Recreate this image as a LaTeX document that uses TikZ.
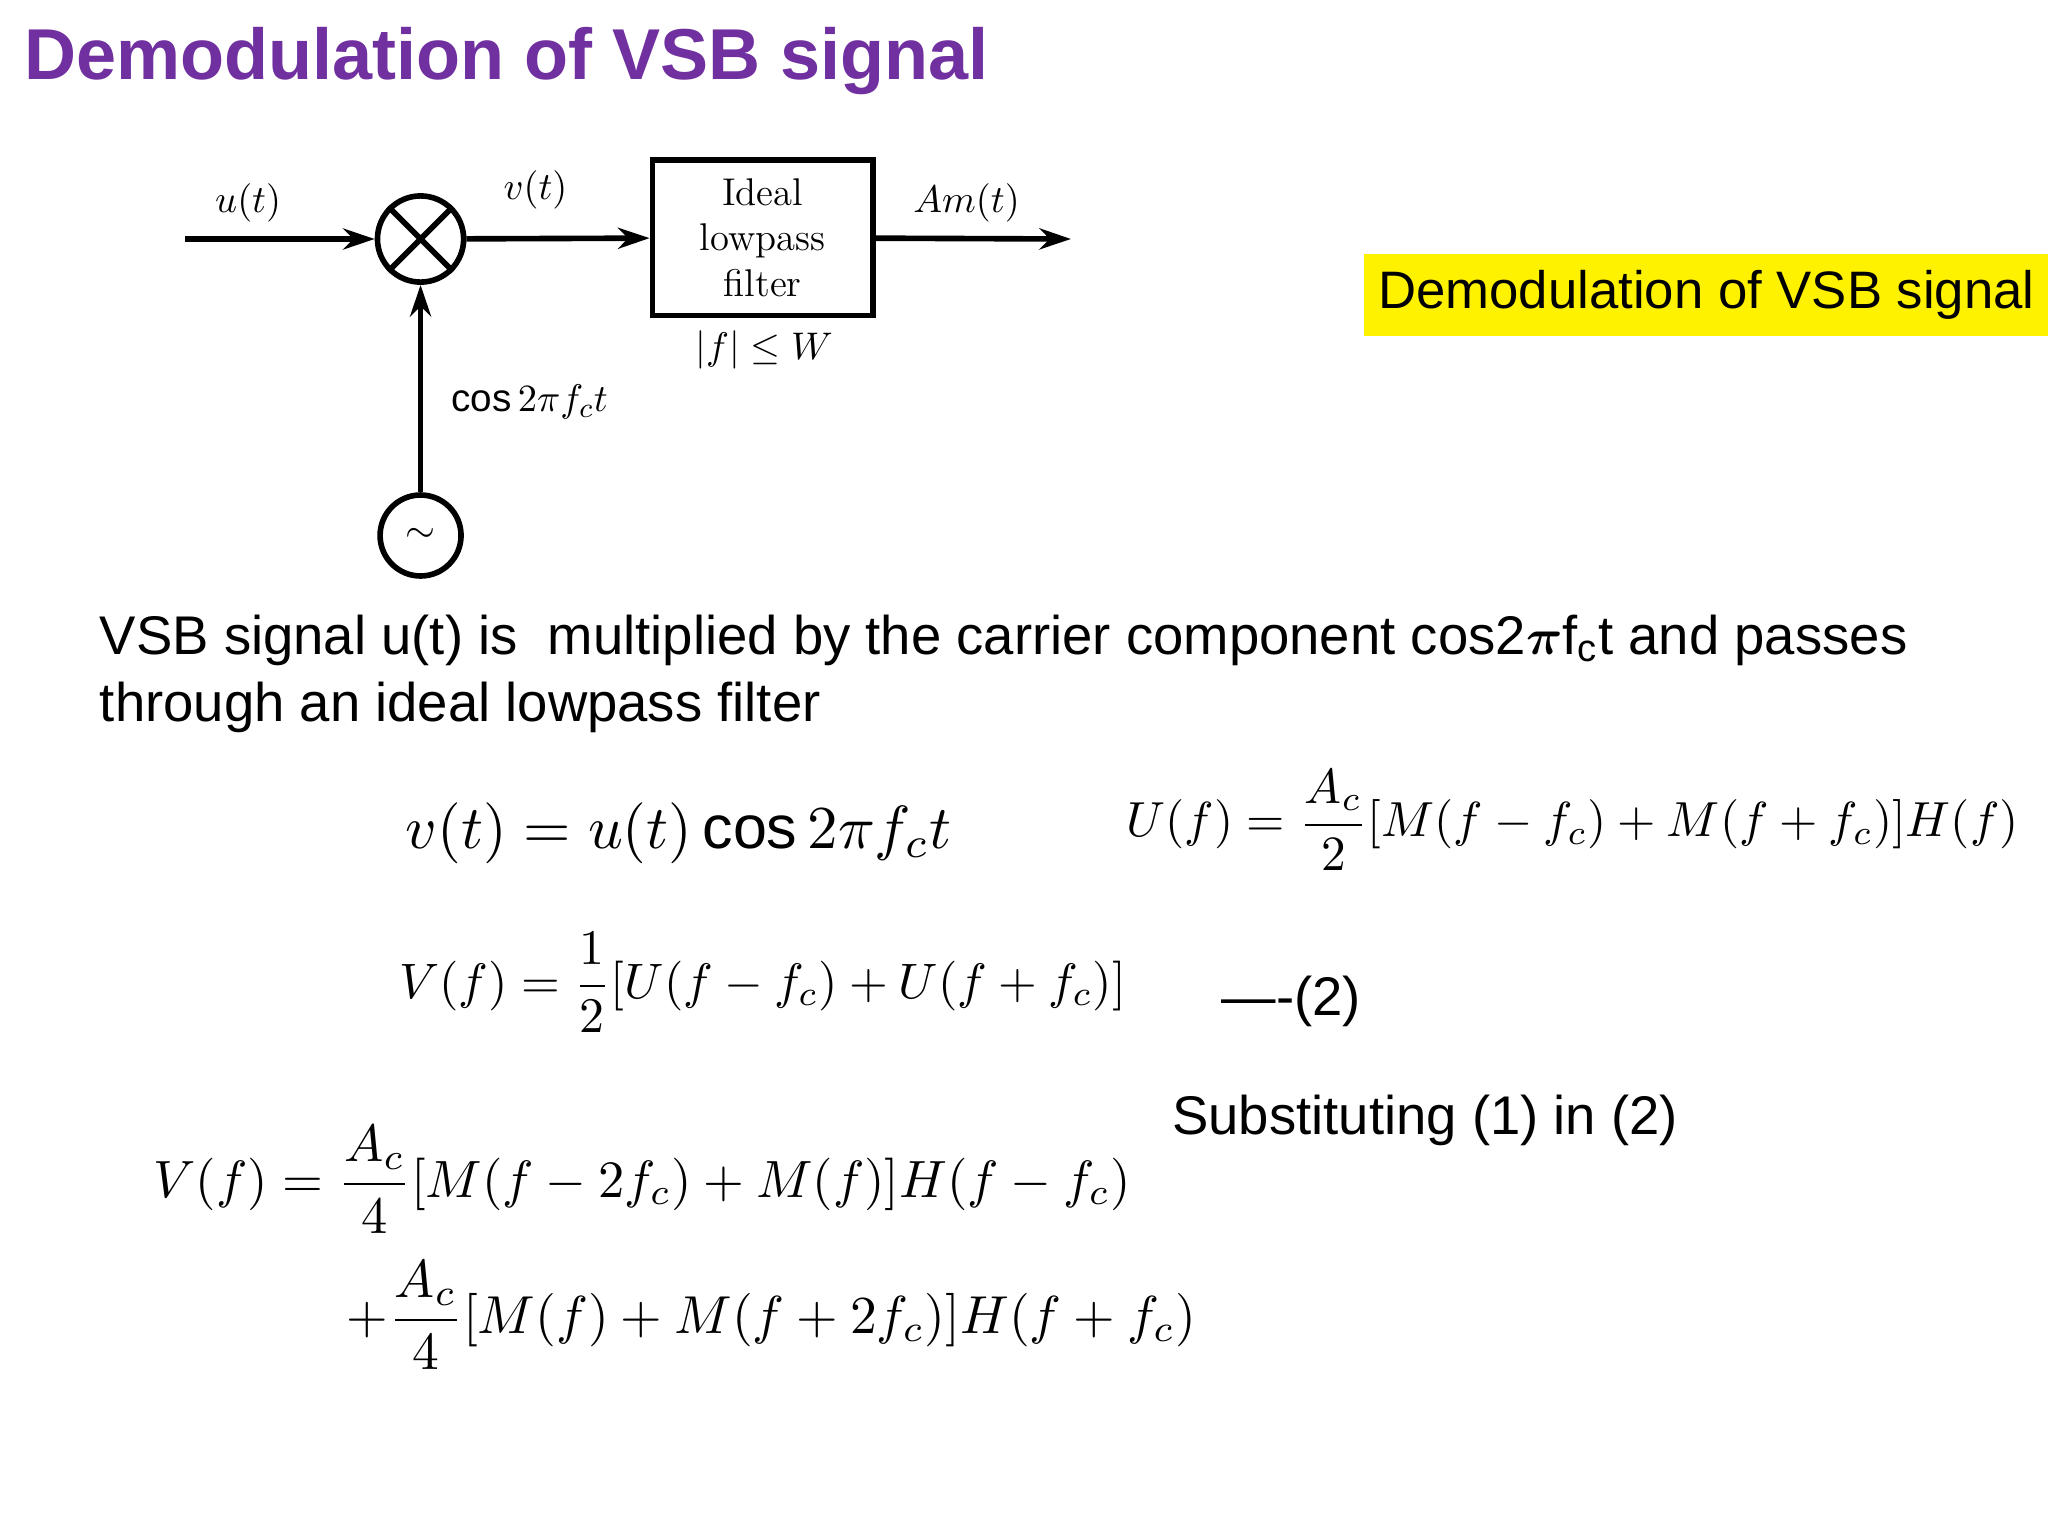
\documentclass[tikz,border=0pt]{standalone}
\usepackage{fontspec}
\usepackage{amsmath}
\usepackage{graphicx}
\setmainfont{Liberation Sans}
\usetikzlibrary{arrows.meta}
\definecolor{ttl}{RGB}{112,48,160}
\tikzset{sig/.style={line width=1.6pt,-{Stealth[length=9pt,width=6pt]}},
 lbl/.style={font=\fontfamily{lmr}\selectfont\fontsize{11}{13}\selectfont},
 txt/.style={anchor=west,inner sep=0pt,font=\fontsize{15.5}{19}\selectfont}}
\begin{document}
\begin{tikzpicture}[x=0.01306cm,y=-0.01306cm]
\useasboundingbox (0,0) rectangle (1568,1176);
\fill[white] (0,0) rectangle (1568,1176);
\node[anchor=west,inner sep=0pt,text=ttl,font=\bfseries\fontsize{20.5}{24}\selectfont] (title) at (18,47) {Demodulation of VSB signal};
% block diagram
\coordinate (in) at (142,183);
\node[circle,draw,line width=1.6pt,minimum size=66*0.01306cm,inner sep=0pt] (mix) at (322,183) {};
\draw[line width=1.6pt] (mix.north west)--(mix.south east) (mix.north east)--(mix.south west);
\node[draw,line width=1.6pt,minimum width=169*0.01306cm,minimum height=119*0.01306cm,align=center,lbl,inner sep=0pt] (lpf) at (584,182) {Ideal\\lowpass\\filter};
\coordinate (out) at (820,183);
\node[circle,draw,line width=1.6pt,minimum size=62*0.01306cm,inner sep=0pt,lbl] (osc) at (322,410) {$\sim$};
\draw[sig] (in)--(mix);
\draw[sig] (mix)--(lpf);
\draw[sig] (lpf)--(out);
\draw[sig] (osc)--(mix);
\node[lbl] (lu) at (190,155) {$u(t)$};
\node[lbl] (lv) at (410,145) {$v(t)$};
\node[lbl] (la) at (740,155) {$Am(t)$};
\node[lbl] (lw) at (585,268) {$|f|\leq W$};
\node[lbl,anchor=west] (lc) at (336,308) {$\cos 2\pi f_c t$};
% yellow box
\node[fill=yellow,anchor=west,minimum width=524*0.01306cm,minimum height=63*0.01306cm,inner sep=0pt,font=\fontsize{15}{18}\selectfont] (yb) at (1044,226) {Demodulation of VSB signal};
% paragraph
\node[txt] (p1) at (76,490) {VSB signal u(t) is\ \ multiplied by the carrier component cos2$\boldsymbol{\pi}$f$_\text{c}$t and passes};
\node[txt] (p2) at (76,542) {through an ideal lowpass filter};
% equations
\node[anchor=west,inner sep=0pt] (e1) at (310,638) {\resizebox{5.46cm}{!}{$v(t)=u(t)\cos 2\pi f_c t$}};
\node[anchor=west,inner sep=0pt] (e2) at (862,628) {\resizebox{8.92cm}{!}{$U(f)=\dfrac{A_c}{2}[M(f-f_c)+M(f+f_c)]H(f)$}};
\node[anchor=west,inner sep=0pt] (e3) at (305,752) {\resizebox{7.27cm}{!}{$V(f)=\dfrac{1}{2}[U(f-f_c)+U(f+f_c)]$}};
\node[txt] (n2) at (935,767) {----(2)};
\node[txt] (sub) at (897,858) {Substituting (1) in (2)};
\node[anchor=west,inner sep=0pt] (e4) at (117,903) {\resizebox{9.77cm}{!}{$V(f)=\dfrac{A_c}{4}[M(f-2f_c)+M(f)]H(f-f_c)$}};
\node[anchor=west,inner sep=0pt] (e5) at (265,1007) {\resizebox{8.49cm}{!}{$+\dfrac{A_c}{4}[M(f)+M(f+2f_c)]H(f+f_c)$}};
\end{tikzpicture}
\end{document}
